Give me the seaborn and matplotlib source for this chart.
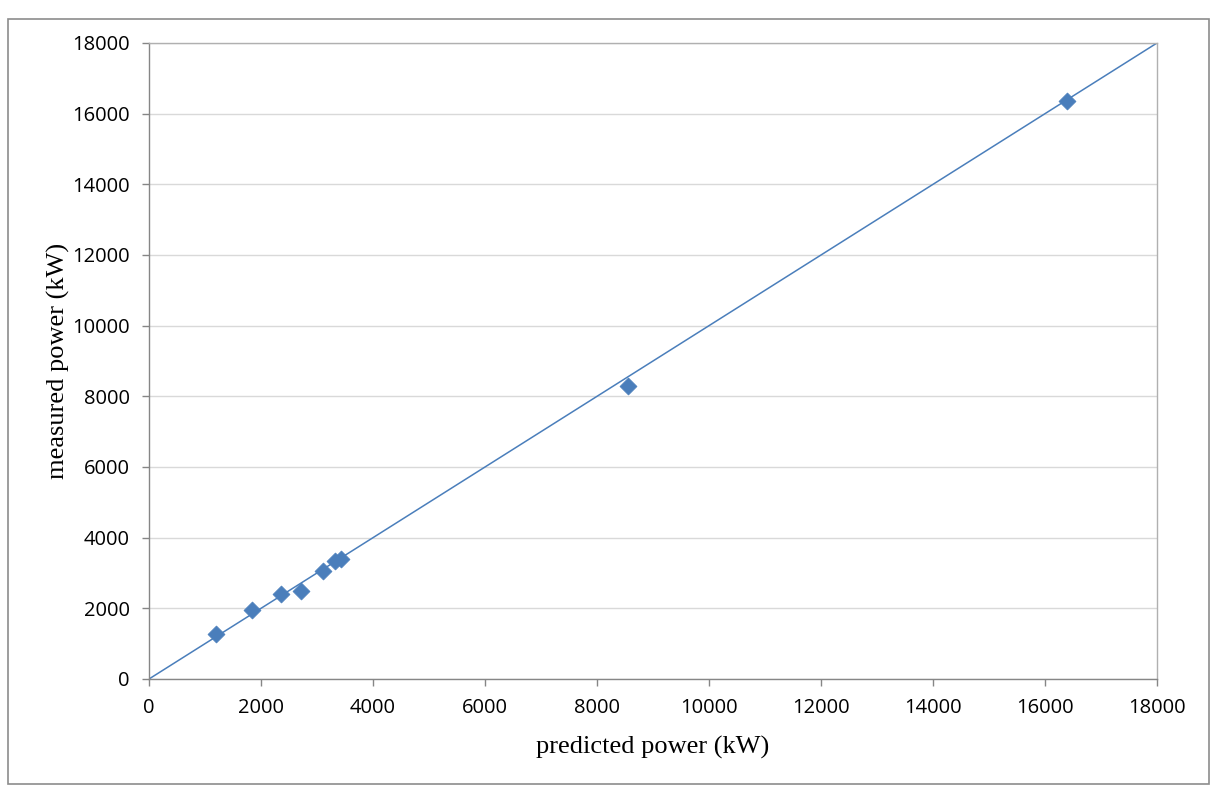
import matplotlib
matplotlib.use("Agg")
import matplotlib.pyplot as plt
import seaborn as sns
import pandas as pd
from matplotlib.patches import Rectangle

# measured vs predicted power (kW)
predicted = [1200, 1840, 2360, 2720, 3100, 3330, 3430, 8550, 16400]
measured = [1280, 1950, 2400, 2500, 3070, 3350, 3400, 8300, 16370]
# y = x reference line
diag = [0, 18000]
ticks = [0, 2000, 4000, 6000, 8000, 10000, 12000, 14000, 16000, 18000]

df = pd.DataFrame({"predicted": predicted, "measured": measured})
ref = pd.DataFrame({"x": diag, "y": diag})

sns.set_style("white")
blue = "#4A7EBB"

fig = plt.figure(figsize=(12.12, 7.92), dpi=100)
ax = fig.add_axes([149 / 1212, 113 / 792, 1008 / 1212, 636 / 792])

sns.lineplot(data=ref, x="x", y="y", ax=ax, color=blue, linewidth=1.1)
sns.scatterplot(data=df, x="predicted", y="measured", ax=ax, marker="D",
                s=75, color=blue, edgecolor=blue, linewidth=0.5, zorder=3)

ax.set_xlim(0, 18000)
ax.set_ylim(0, 18000)
ax.set_xticks(ticks)
ax.set_yticks(ticks)
ax.set_xticklabels([str(t) for t in ticks], fontfamily="Open Sans", fontsize=14.5)
ax.set_yticklabels([str(t) for t in ticks], fontfamily="Open Sans", fontsize=14.5)

ax.yaxis.grid(True, color="#D9D9D9", linewidth=1.0)
ax.xaxis.grid(False)
ax.set_axisbelow(True)

ax.tick_params(axis="both", direction="out", length=5, width=1,
               color="#868686", labelcolor="black", pad=9,
               left=True, bottom=True)

for side in ["left", "bottom"]:
    ax.spines[side].set_color("#868686")
    ax.spines[side].set_linewidth(1.0)
for side in ["top", "right"]:
    ax.spines[side].set_color("#B0B0B0")
    ax.spines[side].set_linewidth(1.0)

ax.set_xlabel("predicted power (kW)", fontfamily="Liberation Serif",
              fontsize=19, color="black")
ax.set_ylabel("measured power (kW)", fontfamily="Liberation Serif",
              fontsize=19, color="black")
ax.xaxis.set_label_coords(0.5, -0.09)
ax.yaxis.set_label_coords(-0.078, 0.5)

# outer chart border
fig.patches.append(Rectangle((8 / 1212, 8 / 792), 1201 / 1212, 765 / 792,
                             transform=fig.transFigure, fill=False,
                             edgecolor="#8C8C8C", linewidth=1.2))

fig.savefig("out.png", dpi=100)
